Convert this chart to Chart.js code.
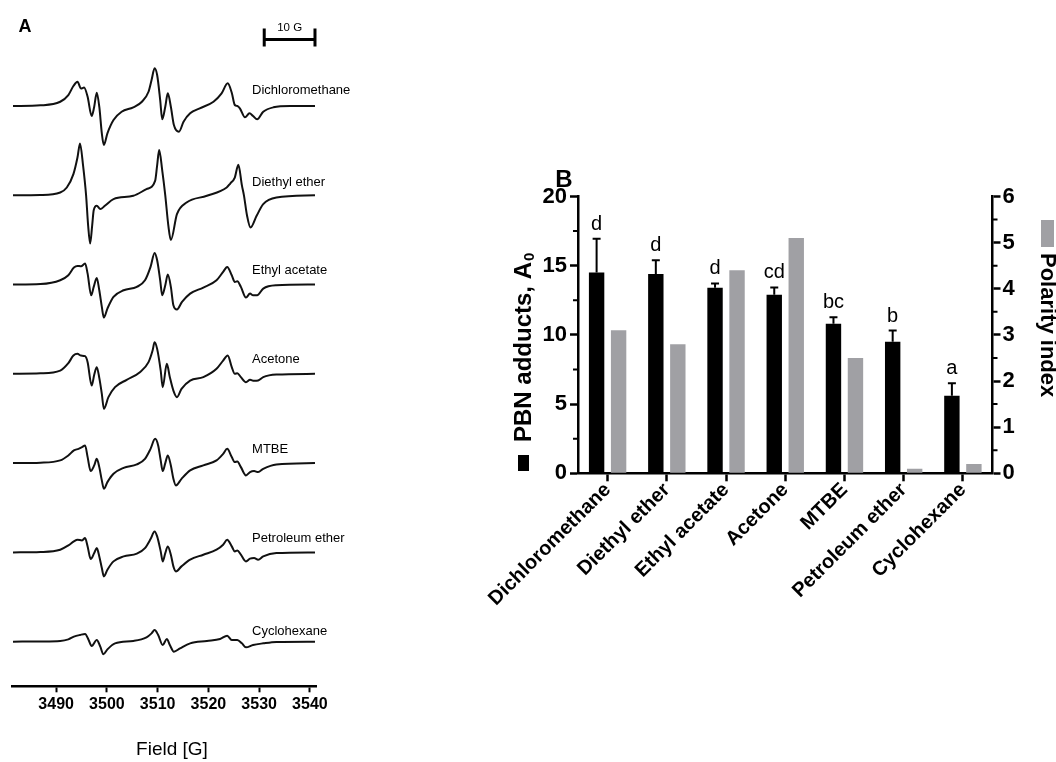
<!DOCTYPE html>
<html>
<head>
<meta charset="utf-8">
<title>PBN spin adducts in different solvents</title>
<script src="https://cdn.jsdelivr.net/npm/chart.js@4.4.0/dist/chart.umd.min.js"></script>
<style>
  html, body { margin: 0; padding: 0; background: #fff; overflow: hidden; }
  #wrap { position: relative; width: 1056px; height: 762px; overflow: hidden; background: #fff; }
  #spectra { position: absolute; left: 0; top: 0; }
  #bars { position: absolute; left: 480px; top: 140px; }
</style>
</head>
<body>
<div id="wrap">
  <canvas id="spectra" width="380" height="762"></canvas>
  <canvas id="bars" width="600" height="622"></canvas>
</div>
<script>
// ---- EPR spectra, [field (G), signal (a.u.)] ----
const dcmSpectrum = [[3481.5,0],[3486.9,0.7],[3490.8,4.3],[3492.4,11],[3493.4,20],[3494.2,24.3],[3494.9,17.5],[3495.5,18.5],[3496.2,9.3],[3497.0,-10],[3497.5,-0.7],[3498.0,13.3],[3498.5,-0.7],[3499.0,-27.3],[3499.4,-39],[3500.1,-27.3],[3501.3,-14],[3502.9,-5.7],[3505.2,-1.3],[3506.9,4.3],[3508.2,14.3],[3508.8,26],[3509.4,37.7],[3509.9,31],[3510.5,6],[3510.9,-13.3],[3511.5,-0.7],[3512.0,12.7],[3512.6,-0.7],[3513.2,-19],[3514.2,-25.7],[3515.1,-15.7],[3516.4,-7.3],[3518.3,-2.3],[3521.0,4.3],[3522.6,12.7],[3523.8,22.7],[3524.6,13.3],[3525.2,1],[3525.7,0],[3526.2,-2.3],[3527.2,-11.3],[3528.1,-7.3],[3528.8,-10],[3529.6,-13.3],[3530.8,-5.7],[3532.8,-1.3],[3536.1,0],[3541.0,0]];
const deeSpectrum = [[3481.5,0],[3486.9,0.3],[3490.8,2.8],[3492.1,7.8],[3493.4,21.2],[3494.2,37.8],[3494.7,51.8],[3495.3,30],[3495.9,0],[3496.3,-30],[3496.7,-48.2],[3497.1,-30],[3497.4,-15],[3498.0,-10.5],[3498.7,-13.8],[3499.6,-10.5],[3501.3,-3.8],[3505.2,-0.5],[3507.8,6.2],[3509.5,14.5],[3509.9,30],[3510.3,45.2],[3510.9,25],[3511.5,0],[3512.1,-30],[3512.6,-44.8],[3513.8,-18.8],[3515.7,-7.2],[3519.7,-0.5],[3523.6,7.8],[3524.3,11.8],[3525.2,17.8],[3525.9,30.5],[3526.6,10],[3527.0,0],[3527.6,-20],[3528.3,-32.2],[3529.5,-20.5],[3530.8,-8.8],[3533.4,-2.2],[3541.0,0]];
const eaSpectrum = [[3481.5,0],[3486.9,0.5],[3490.8,4.3],[3492.4,9.3],[3493.5,17],[3494.2,18.7],[3494.9,18.3],[3495.7,21],[3496.2,11],[3496.9,-10.7],[3497.4,-2.3],[3498.0,6.7],[3498.5,-5.7],[3499.0,-22.3],[3499.4,-33],[3500.1,-24],[3501.3,-12.3],[3503.3,-5.7],[3505.9,-2.3],[3507.5,4.3],[3508.6,17.7],[3509.4,31.7],[3509.9,24.3],[3510.5,4.3],[3510.9,-10.7],[3511.5,-0.7],[3512.0,10],[3512.6,-2.3],[3513.1,-20.7],[3513.8,-25],[3514.8,-17.3],[3516.4,-9],[3519.0,-3],[3521.6,4.3],[3522.9,12.7],[3523.7,17.7],[3524.6,9.3],[3525.2,2.7],[3525.7,3.3],[3526.4,-2.3],[3527.4,-13],[3528.2,-9],[3528.8,-10.7],[3529.6,-10.7],[3530.8,-4],[3533.4,-0.7],[3541.0,0]];
const acetoneSpectrum = [[3481.5,0],[3486.9,0.5],[3490.8,3.3],[3492.4,10.7],[3493.4,18.3],[3494.2,20],[3494.9,18.3],[3495.7,17.7],[3496.2,11.7],[3497.0,-11.7],[3497.5,-1],[3498.0,6.7],[3498.5,-4],[3499.0,-20],[3499.4,-35],[3500.3,-23.3],[3501.6,-13.3],[3503.9,-6],[3506.5,1.7],[3508.2,11.7],[3509.0,23.3],[3509.4,31.7],[3509.9,25],[3510.6,3.3],[3511.0,-13.3],[3511.8,10],[3512.4,-3.3],[3513.1,-16.7],[3513.8,-23.3],[3514.7,-15],[3516.4,-6.7],[3519.0,-3.3],[3521.6,5],[3522.9,13.3],[3523.8,18.3],[3524.6,6.7],[3525.2,0],[3525.7,0.7],[3526.4,-3.3],[3527.4,-8.3],[3528.2,-6],[3529.0,-7],[3529.8,-6.7],[3530.8,-3.3],[3533.4,-0.7],[3541.0,0]];
const mtbeSpectrum = [[3481.5,0],[3486.9,0.4],[3490.8,2.7],[3492.4,7.7],[3493.5,12.7],[3494.4,14.3],[3495.1,16],[3495.7,17.7],[3496.2,6],[3496.8,-8],[3497.5,-2.3],[3498.0,4.3],[3498.5,-4],[3499.0,-17.3],[3499.4,-25.7],[3500.1,-19],[3501.3,-10.7],[3503.3,-4.7],[3505.9,-1.3],[3507.5,4.3],[3508.6,14.3],[3509.5,24.3],[3510.1,17.7],[3510.6,2.7],[3511.0,-8],[3511.5,0],[3512.0,7.7],[3512.6,-2.3],[3513.1,-15.7],[3513.6,-22.3],[3514.7,-15.7],[3516.4,-7.3],[3519.0,-2.3],[3521.6,2.7],[3522.9,9.3],[3523.7,14.3],[3524.6,6],[3525.2,1],[3525.7,1.7],[3526.4,-4],[3527.4,-12.3],[3528.2,-9],[3529.0,-8],[3529.8,-9],[3530.8,-5.7],[3533.4,-1.3],[3541.0,0]];
const peSpectrum = [[3481.5,0],[3486.9,0.4],[3490.8,2.7],[3492.4,7],[3493.5,11],[3494.2,12.7],[3495.1,12],[3495.7,14.3],[3496.2,6],[3496.8,-6.7],[3497.5,-0.7],[3498.0,4.3],[3498.5,-4],[3499.0,-15.7],[3499.4,-24],[3500.1,-17.3],[3501.3,-9],[3503.3,-4],[3505.9,-1.3],[3507.5,4.3],[3508.6,13.3],[3509.4,21],[3509.9,16],[3510.6,1],[3511.0,-9],[3511.5,-0.7],[3512.0,6],[3512.6,-2.3],[3513.1,-14],[3513.6,-19],[3514.7,-14],[3516.4,-7.3],[3519.0,-2.3],[3521.6,2.7],[3522.9,7.7],[3523.7,12.7],[3524.6,6],[3525.2,1],[3525.7,2],[3526.4,-2.3],[3527.4,-9],[3528.2,-6.3],[3529.0,-5.7],[3529.8,-7.3],[3530.8,-4],[3533.4,-0.7],[3541.0,0]];
const chSpectrum = [[3481.5,0],[3486.9,0.2],[3490.8,0.7],[3492.4,2.3],[3493.5,5],[3494.7,6.7],[3495.7,7.7],[3496.4,1.7],[3497.0,-4.3],[3498.0,1.7],[3498.7,-5],[3499.3,-12.7],[3500.1,-7.7],[3501.6,-1.7],[3505.2,0.7],[3507.8,4.3],[3508.8,8.3],[3509.4,11.7],[3510.1,6.7],[3511.0,-3.3],[3511.8,2.7],[3512.4,-3.3],[3513.2,-10],[3514.4,-6.7],[3516.4,-1.7],[3519.7,0.7],[3522.3,2.7],[3523.7,6],[3524.6,1.7],[3525.7,1.7],[3526.6,-1.7],[3527.4,-5.7],[3528.8,-3.3],[3530.8,-1.7],[3533.4,-0.3],[3541.0,0]];

const solvents = ['Dichloromethane', 'Diethyl ether', 'Ethyl acetate', 'Acetone', 'MTBE', 'Petroleum ether', 'Cyclohexane'];
const spectraList = [dcmSpectrum, deeSpectrum, eaSpectrum, acetoneSpectrum, mtbeSpectrum, peSpectrum, chSpectrum];

// ---- PBN adducts vs polarity ----
const pbnAdducts = [14.5, 14.4, 13.4, 12.9, 10.8, 9.5, 5.6];
const pbnError = [2.45, 1.0, 0.32, 0.53, 0.48, 0.81, 0.9];
const polarityIndex = [3.1, 2.8, 4.4, 5.1, 2.5, 0.1, 0.2];
const groupLetters = ['d', 'd', 'd', 'cd', 'bc', 'b', 'a'];

const FONT = '"Liberation Sans", Arial, sans-serif';
Chart.defaults.font.family = FONT;
Chart.defaults.color = '#000';

// name of each spectrum sits a little above its baseline
const nameRise = [16, 12.8, 14, 14, 13.7, 14, 10.7];

const spectraDecor = {
  id: 'spectraDecor',
  afterDraw(chart) {
    const { ctx, scales, chartArea } = chart;
    ctx.save();
    ctx.fillStyle = '#000';
    ctx.textBaseline = 'middle';
    ctx.textAlign = 'left';
    ctx.font = '13px ' + FONT;
    chart.data.datasets.forEach((ds, i) => {
      ctx.fillText(ds.label, scales.x.getPixelForValue(3528.6), scales['y' + i].getPixelForValue(nameRise[i]));
    });

    // panel letter
    ctx.font = 'bold 18px ' + FONT;
    ctx.textAlign = 'center';
    ctx.fillText('A', 25, 27);

    // axis title, a bit right of the axis centre
    ctx.font = '19px ' + FONT;
    ctx.fillText('Field [G]', (chartArea.left + chartArea.right) / 2 + 8, 750);

    // 10 G scale bar
    const x0 = scales.x.getPixelForValue(3531);
    const x1 = scales.x.getPixelForValue(3541);
    const yb = chartArea.top - 22;
    ctx.strokeStyle = '#000';
    ctx.lineWidth = 3;
    ctx.beginPath();
    ctx.moveTo(x0, yb); ctx.lineTo(x1, yb);
    ctx.moveTo(x0, yb - 11); ctx.lineTo(x0, yb + 7);
    ctx.moveTo(x1, yb - 11); ctx.lineTo(x1, yb + 7);
    ctx.stroke();
    ctx.font = '11.5px ' + FONT;
    ctx.fillText('10 G', (x0 + x1) / 2, yb - 12);
    ctx.restore();
  }
};

const spectraScales = {
  x: {
    type: 'linear',
    position: 'bottom',
    min: 3481.3,
    max: 3541.2,
    border: { color: '#000', width: 2.5 },
    grid: { drawOnChartArea: false, tickLength: 6, tickColor: '#000', tickWidth: 2 },
    ticks: {
      stepSize: 10, includeBounds: false, maxRotation: 0, padding: 3,
      font: { size: 16, weight: 'bold' },
      callback: (v) => String(v)
    },
    afterFit: (s) => { s.height = 75.7; }
  }
};
solvents.forEach((name, i) => {
  spectraScales['y' + i] = {
    type: 'linear', position: 'right', stack: 'spectra', stackWeight: 1,
    min: -44.65, max: 44.65, display: false
  };
});

new Chart(document.getElementById('spectra'), {
  type: 'line',
  data: {
    datasets: solvents.map((name, i) => ({
      label: name,
      data: spectraList[i].map(p => ({ x: p[0], y: p[1] })),
      yAxisID: 'y' + i,
      borderColor: '#111',
      borderWidth: 2,
      pointRadius: 0,
      cubicInterpolationMode: 'monotone',
      clip: false
    }))
  },
  options: {
    responsive: false,
    animation: false,
    layout: { padding: { left: 12, right: 64, top: 61.4, bottom: 0 } },
    plugins: { legend: { display: false }, tooltip: { enabled: false } },
    scales: spectraScales
  },
  plugins: [spectraDecor]
});

// error bars, group letters, minor ticks and axis titles for the bar panel
const barDecor = {
  id: 'barDecor',
  afterDraw(chart) {
    const { ctx, scales, chartArea } = chart;
    const yL = scales.y, yR = scales.y1;
    ctx.save();
    ctx.strokeStyle = '#000';
    ctx.fillStyle = '#000';

    // error bars (upper only) and letters
    const bars = chart.getDatasetMeta(0).data;
    ctx.lineWidth = 2;
    ctx.font = '20px ' + FONT;
    ctx.textAlign = 'center';
    ctx.textBaseline = 'alphabetic';
    bars.forEach((bar, i) => {
      const top = yL.getPixelForValue(pbnAdducts[i] + pbnError[i]);
      ctx.beginPath();
      ctx.moveTo(bar.x, bar.y);
      ctx.lineTo(bar.x, top);
      ctx.moveTo(bar.x - 4, top);
      ctx.lineTo(bar.x + 4, top);
      ctx.stroke();
      ctx.fillText(groupLetters[i], bar.x, top - 9);
    });

    // minor ticks
    ctx.lineWidth = 2;
    ctx.beginPath();
    for (let v = 2.5; v < 20; v += 5) {
      const py = yL.getPixelForValue(v);
      ctx.moveTo(chartArea.left - 5, py); ctx.lineTo(chartArea.left, py);
    }
    for (let v = 0.5; v < 6; v += 1) {
      const py = yR.getPixelForValue(v);
      ctx.moveTo(chartArea.right, py); ctx.lineTo(chartArea.right + 5, py);
    }
    ctx.stroke();

    // left title with its legend key
    ctx.font = 'bold 24px ' + FONT;
    ctx.textAlign = 'left';
    ctx.textBaseline = 'middle';
    const mainTxt = 'PBN adducts, A';
    ctx.save();
    ctx.translate(44, 331);
    ctx.rotate(-Math.PI / 2);
    ctx.fillRect(0, -6, 16, 11);
    ctx.fillText(mainTxt, 29, 0);
    const w = ctx.measureText(mainTxt).width;
    ctx.font = 'bold 15px ' + FONT;
    ctx.fillText('0', 29 + w + 1, 6);
    ctx.restore();

    // right title with its legend key
    ctx.save();
    ctx.font = 'bold 22px ' + FONT;
    ctx.translate(567, 80);
    ctx.rotate(Math.PI / 2);
    ctx.fillStyle = '#a0a0a4';
    ctx.fillRect(0, -7, 27, 13);
    ctx.fillStyle = '#000';
    ctx.fillText('Polarity index', 33, 0);
    ctx.restore();

    // panel letter
    ctx.font = 'bold 24px ' + FONT;
    ctx.textAlign = 'center';
    ctx.fillText('B', 84, 40);
    ctx.restore();
  }
};

const axisFont = { size: 22, weight: 'bold' };

new Chart(document.getElementById('bars'), {
  type: 'bar',
  data: {
    labels: solvents,
    datasets: [
      {
        label: 'PBN adducts, A0',
        data: pbnAdducts,
        yAxisID: 'y',
        backgroundColor: '#000',
        borderColor: '#000',
        borderWidth: 0,
        categoryPercentage: 0.743,
        barPercentage: 0.7
      },
      {
        label: 'Polarity index',
        data: polarityIndex,
        yAxisID: 'y1',
        backgroundColor: '#a0a0a4',
        borderWidth: 0,
        categoryPercentage: 0.743,
        barPercentage: 0.7
      }
    ]
  },
  options: {
    responsive: false,
    animation: false,
    layout: { padding: { left: 0, right: 0, top: 56.5, bottom: 0 } },
    plugins: { legend: { display: false }, tooltip: { enabled: false } },
    scales: {
      x: {
        offset: true,
        border: { color: '#000', width: 2.5 },
        grid: { offset: false, drawOnChartArea: false, tickLength: 8, tickColor: '#000', tickWidth: 2.5 },
        ticks: { font: { size: 20, weight: 'bold' }, minRotation: 45, maxRotation: 45, autoSkip: false, padding: -3 },
        afterFit: (s) => { s.height = 288.7; }
      },
      y: {
        position: 'left',
        min: 0,
        max: 20,
        border: { color: '#000', width: 2.5 },
        grid: { drawOnChartArea: false, tickLength: 8, tickColor: '#000', tickWidth: 2.5 },
        ticks: { stepSize: 5, font: axisFont, padding: 3 },
        afterFit: (s) => { s.width = 98; }
      },
      y1: {
        position: 'right',
        min: 0,
        max: 6,
        border: { color: '#000', width: 2.5 },
        grid: { drawOnChartArea: false, tickLength: 8, tickColor: '#000', tickWidth: 2.5 },
        ticks: { stepSize: 1, font: axisFont, padding: 2 },
        afterFit: (s) => { s.width = 87.5; }
      }
    }
  },
  plugins: [barDecor]
});
</script>
</body>
</html>
